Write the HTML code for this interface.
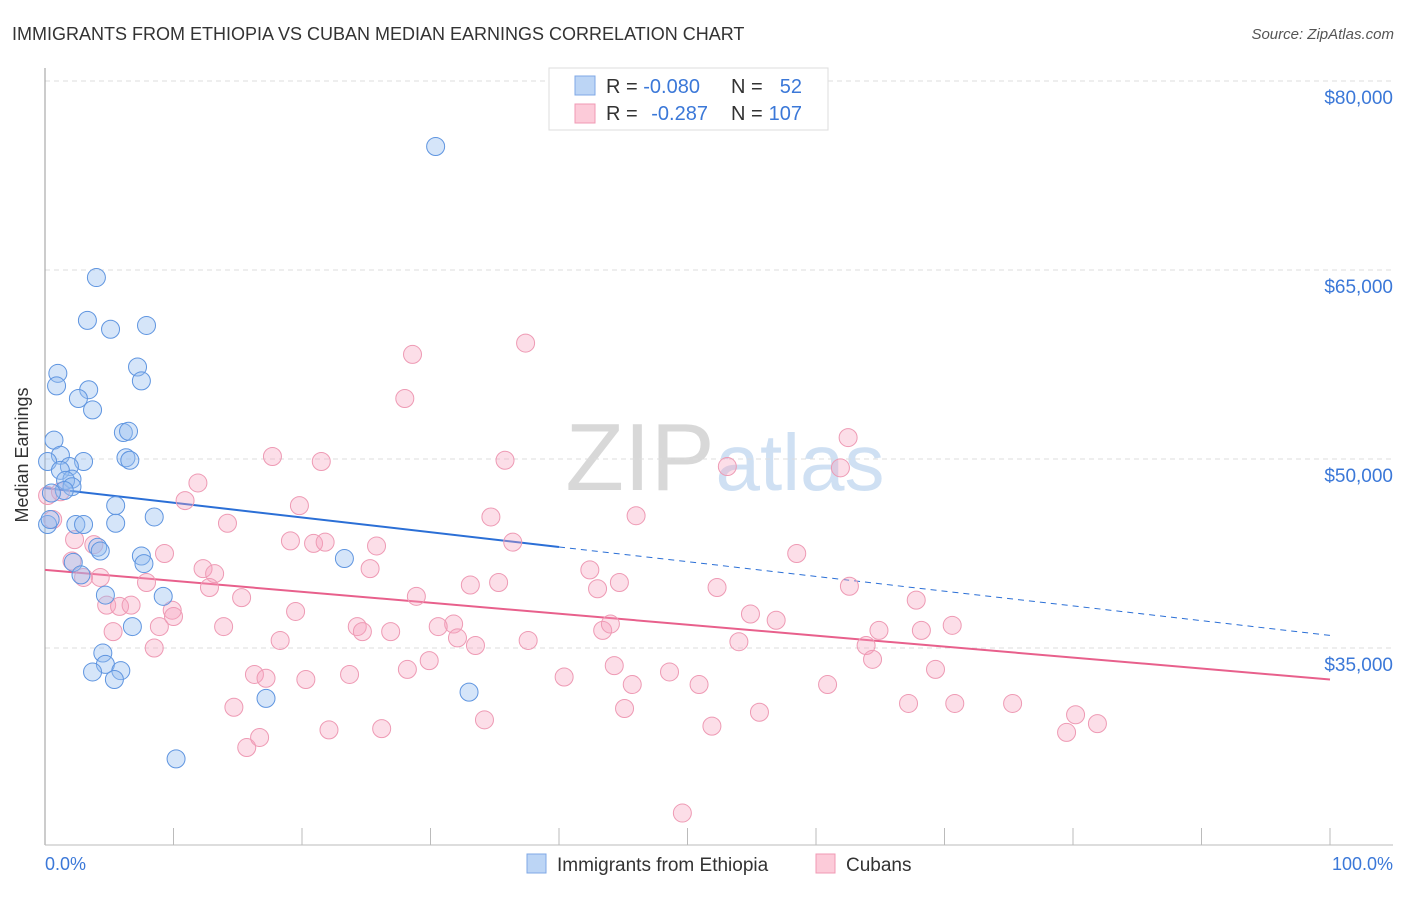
<!DOCTYPE html>
<html><head><meta charset="utf-8"><style>
body{margin:0;background:#fff;font-family:"Liberation Sans",sans-serif}
svg text{font-family:"Liberation Sans",sans-serif}
</style></head><body>
<svg id="chart" width="1406" height="892" xmlns="http://www.w3.org/2000/svg">
<text x="12" y="40" font-size="18" fill="#333">IMMIGRANTS FROM ETHIOPIA VS CUBAN MEDIAN EARNINGS CORRELATION CHART</text>
<text x="1394" y="39" font-size="15" fill="#555" font-style="italic" text-anchor="end">Source: ZipAtlas.com</text>
<text x="640" y="490" font-size="96" fill="#d8d8d8" font-family="Liberation Serif" text-anchor="middle">ZIP</text>
<text x="800" y="490" font-size="80" fill="#cfe0f3" text-anchor="middle">atlas</text>
<g id="grid"></g>
<line x1="45" y1="68" x2="45" y2="845" stroke="#999"/>
<line x1="45" y1="845" x2="1393" y2="845" stroke="#bbb"/>
<g id="xticks"></g>
<text x="28" y="455" font-size="18" fill="#333" transform="rotate(-90 28 455)" text-anchor="middle">Median Earnings</text>
<text x="45" y="870" font-size="18" fill="#3b78d8">0.0%</text>
<text x="1393" y="870" font-size="18" fill="#3b78d8" text-anchor="end">100.0%</text>
<g id="trend"></g>
<g id="points"></g>
<g>
<rect x="549" y="68" width="279" height="62" fill="#fff" stroke="#ddd"/>
<rect x="575" y="76" width="20" height="19" fill="#bcd5f5" stroke="#7fa8e6"/>
<rect x="575" y="104" width="20" height="19" fill="#fccbd9" stroke="#f09ab4"/>
<text x="606" y="93" font-size="20" fill="#333">R = <tspan fill="#3b78d8">-0.080</tspan></text>
<text x="731" y="93" font-size="20" fill="#333">N = </text><text x="802" y="93" font-size="20" fill="#3b78d8" text-anchor="end">52</text>
<text x="606" y="120" font-size="20" fill="#333">R = <tspan fill="#3b78d8" dx="8">-0.287</tspan></text>
<text x="731" y="120" font-size="20" fill="#333">N = </text><text x="802" y="120" font-size="20" fill="#3b78d8" text-anchor="end">107</text>
</g>
<g>
<rect x="527" y="854" width="19" height="19" fill="#bcd5f5" stroke="#7fa8e6"/>
<text x="557" y="871" font-size="19" fill="#333">Immigrants from Ethiopia</text>
<rect x="816" y="854" width="19" height="19" fill="#fccbd9" stroke="#f09ab4"/>
<text x="846" y="871" font-size="19" fill="#333">Cubans</text>
</g>
</svg>
<script>
const yTickValues=[80,65,50,35];
const yTickLabels=["$80,000","$65,000","$50,000","$35,000"];
const xTickValues=[10,20,30,40,50,60,70,80,90,100];
const ethiopia=[[30.4,74.8],[4.0,64.4],[3.3,61.0],[5.1,60.3],[7.9,60.6],[1.0,56.8],[7.2,57.3],[0.9,55.8],[7.5,56.2],[3.4,55.5],[2.6,54.8],[3.7,53.9],[6.1,52.1],[6.5,52.2],[0.7,51.5],[1.2,50.3],[6.3,50.1],[6.6,49.9],[3.0,49.8],[0.2,49.8],[1.9,49.4],[1.2,49.1],[2.1,48.4],[1.6,48.3],[2.1,47.8],[1.5,47.5],[0.5,47.3],[5.5,46.3],[8.5,45.4],[5.5,44.9],[2.4,44.8],[3.0,44.8],[0.2,44.8],[4.1,43.0],[4.3,42.7],[7.5,42.3],[7.7,41.7],[2.2,41.8],[2.8,40.8],[4.7,39.2],[9.2,39.1],[6.8,36.7],[23.3,42.1],[4.5,34.6],[4.7,33.7],[3.7,33.1],[5.9,33.2],[5.4,32.5],[33.0,31.5],[17.2,31.0],[10.2,26.2],[0.4,45.2]];
const cubans=[[0.6,45.2],[0.2,47.1],[1.2,47.4],[2.1,41.9],[3.0,40.6],[4.3,40.6],[3.8,43.2],[2.3,43.6],[4.8,38.4],[5.8,38.3],[6.7,38.4],[7.9,40.2],[9.3,42.5],[10.9,46.7],[11.9,48.1],[9.9,38.0],[8.9,36.7],[10.0,37.5],[8.5,35.0],[5.3,36.3],[14.2,44.9],[12.3,41.3],[13.2,40.9],[12.8,39.8],[15.3,39.0],[13.9,36.7],[17.7,50.2],[19.8,46.3],[21.5,49.8],[19.1,43.5],[20.9,43.3],[21.8,43.4],[25.8,43.1],[25.3,41.3],[19.5,37.9],[16.3,32.9],[17.2,32.6],[18.3,35.6],[20.3,32.5],[14.7,30.3],[15.7,27.1],[16.7,27.9],[22.1,28.5],[23.7,32.9],[24.3,36.7],[24.7,36.3],[26.9,36.3],[28.6,58.3],[28.0,54.8],[35.8,49.9],[37.4,59.2],[34.7,45.4],[36.4,43.4],[33.1,40.0],[31.8,36.9],[28.9,39.1],[30.6,36.7],[32.1,35.8],[33.5,35.2],[35.3,40.2],[37.6,35.6],[28.2,33.3],[29.9,34.0],[34.2,29.3],[26.2,28.6],[40.4,32.7],[42.4,41.2],[43.0,39.7],[44.7,40.2],[43.4,36.4],[44.0,36.9],[44.3,33.6],[45.7,32.1],[45.1,30.2],[46.0,45.5],[48.6,33.1],[50.9,32.1],[49.6,21.9],[51.9,28.8],[52.3,39.8],[53.1,49.4],[54.0,35.5],[54.9,37.7],[55.6,29.9],[56.9,37.2],[58.5,42.5],[60.9,32.1],[62.5,51.7],[61.9,49.3],[62.6,39.9],[63.9,35.2],[64.4,34.1],[64.9,36.4],[67.2,30.6],[67.8,38.8],[68.2,36.4],[69.3,33.3],[70.6,36.8],[70.8,30.6],[75.3,30.6],[79.5,28.3],[80.2,29.7],[81.9,29.0]];
const ethiopiaTrend=[47.7,36.0];
const cubansTrend=[41.2,32.5];
const NS="http://www.w3.org/2000/svg";
const X=p=>45+p*12.85, Y=k=>81+(80-k)*12.6;
function mk(tag,attrs,parent){const e=document.createElementNS(NS,tag);for(const k in attrs)e.setAttribute(k,attrs[k]);parent.appendChild(e);return e;}
const grid=document.getElementById('grid');
yTickValues.forEach((v,i)=>{
 const l=mk('line',{x1:45,x2:1393,y1:Y(v),y2:Y(v),stroke:'#ddd','stroke-dasharray':'5,4'},grid);
 
 
 const t=mk('text',{x:1393,y:Y(v)+23,'font-size':19,fill:'#3b78d8','text-anchor':'end'},grid);
 t.textContent=yTickLabels[i];
 
 
});
const xt=document.getElementById('xticks');
xTickValues.forEach(v=>{
 const l=mk('line',{x1:X(v),x2:X(v),y1:828,y2:845,stroke:'#bbb'},xt);
 
 
});
const tr=document.getElementById('trend');
const midE=ethiopiaTrend[0]+(ethiopiaTrend[1]-ethiopiaTrend[0])*0.4;
let l1=mk('line',{x1:X(0),y1:Y(ethiopiaTrend[0]),x2:X(40),y2:Y(midE),stroke:'#2b6fd6','stroke-width':2},tr);


let l2=mk('line',{x1:X(40),y1:Y(midE),x2:X(100),y2:Y(ethiopiaTrend[1]),stroke:'#2b6fd6','stroke-width':1,'stroke-dasharray':'6,5'},tr);


let l3=mk('line',{x1:X(0),y1:Y(cubansTrend[0]),x2:X(100),y2:Y(cubansTrend[1]),stroke:'#e8608c','stroke-width':2},tr);


const pts=document.getElementById('points');
cubans.forEach(d=>{
 const c=mk('circle',{cx:X(d[0]),cy:Y(d[1]),r:9,fill:'rgba(245,160,188,0.35)',stroke:'#ee9ab4','stroke-width':1},pts);
 
 
});
ethiopia.forEach(d=>{
 const c=mk('circle',{cx:X(d[0]),cy:Y(d[1]),r:9,fill:'rgba(150,190,240,0.4)',stroke:'#5f95e0','stroke-width':1},pts);
 
 
});
</script>
</body></html>
